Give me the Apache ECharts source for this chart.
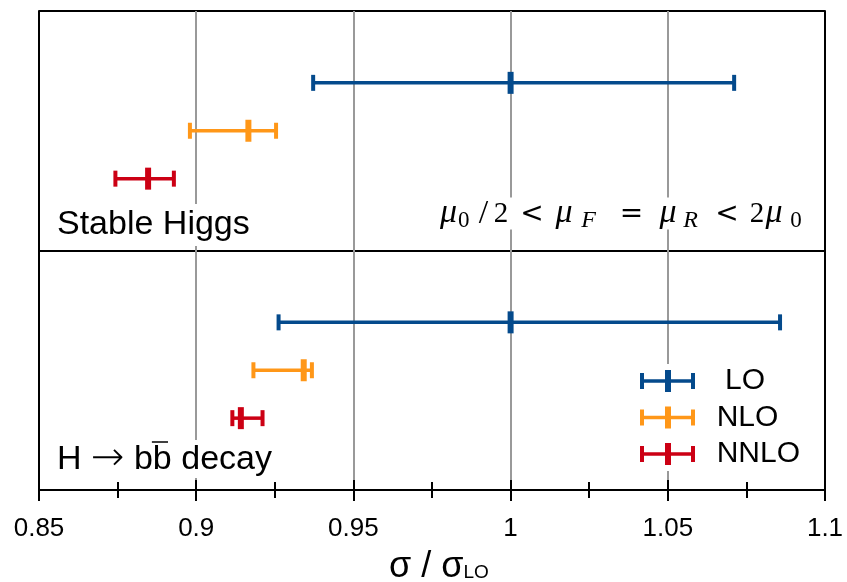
<!DOCTYPE html>
<html>
<head>
<meta charset="utf-8">
<script src="https://cdn.jsdelivr.net/npm/echarts@6/dist/echarts.min.js"></script>
<style>html,body{margin:0;padding:0;background:#fff;}#c{width:847px;height:582px;}</style>
</head>
<body>
<div id="c"></div>
<script>
// ---- data ----
const orders = ['LO', 'NLO', 'NNLO'];
const panelTop = 'Stable Higgs';
const panelBottomParts = ['H ', '\u2192', ' b', 'b', ' decay'];
const stableCentral = [1.000, 0.9166, 0.8847];
const stableLow     = [0.9372, 0.8980, 0.8743];
const stableHigh    = [1.0711, 0.9254, 0.8929];
const decayCentral  = [1.000, 0.9342, 0.9142];
const decayLow      = [0.9262, 0.9182, 0.9115];
const decayHigh     = [1.0857, 0.9368, 0.9211];
const xMin = 0.85, xMax = 1.1, xStep = 0.05;

// ---- styles ----
const colors = ['#044a8c', '#ff9718', '#cc0014'];
const FONT = '"Liberation Sans", Arial, sans-serif';
const SERIF = '"Liberation Serif", "Times New Roman", serif';

const chart = echarts.init(document.getElementById('c'), null, {renderer: 'canvas'});

// rows: panel p, order i -> y slot p*5 + i + 1.5 (y axis 0..10, divider at 5)
function buildData(i) {
  return [
    [0 * 5 + i + 1.5, stableLow[i], stableCentral[i], stableHigh[i]],
    [1 * 5 + i + 1.5, decayLow[i], decayCentral[i], decayHigh[i]]
  ];
}

function renderItem(params, api) {
  const y = api.value(0);
  const lo = api.coord([api.value(1), y]);
  const c = api.coord([api.value(2), y]);
  const hi = api.coord([api.value(3), y]);
  const color = api.visual('color');
  const st = {fill: color};
  return {
    type: 'group',
    children: [
      {type: 'rect', shape: {x: lo[0], y: lo[1] - 1.75, width: hi[0] - lo[0], height: 3.5}, style: st},
      {type: 'rect', shape: {x: lo[0] - 2, y: lo[1] - 8, width: 4, height: 16}, style: st},
      {type: 'rect', shape: {x: hi[0] - 2, y: hi[1] - 8, width: 4, height: 16}, style: st},
      {type: 'rect', shape: {x: c[0] - 3, y: c[1] - 11, width: 6, height: 22}, style: st}
    ]
  };
}

const errIcon = 'path://M0,3h4v6.25h21v-9.25h6v9.25h20v-6.25h4v16h-4v-6.25h-20v9.25h-6v-9.25h-21v6.25h-4z';

// bottom panel label: measure to place the bar over the second "b"
const mctx = document.createElement('canvas').getContext('2d');
mctx.font = '34px "Liberation Sans"';
const wH = mctx.measureText(panelBottomParts[0]).width;
const wSpB = mctx.measureText(panelBottomParts[2]).width;
const wB = mctx.measureText('b').width;
mctx.font = '200 40px "DejaVu Sans"';
const wArr = mctx.measureText(panelBottomParts[1]).width;
const decayX = 57;
const barStart = decayX + wH + wArr + wSpB;

const decayRich = '{a|' + panelBottomParts[0] + '}{r|' + panelBottomParts[1] + '}{a|' +
  panelBottomParts[2] + panelBottomParts[3] + panelBottomParts[4] + '}';
const muRich = '{i1|\u03bc}{s1|0}{sl|/}{n2|2}{o1|<}{i1|\u03bc}{sF|F}{o2|=}{i1|\u03bc}{sR|R}{o1|<}{n1|2}{i2|\u03bc}{s2|0}';

const tickStyle = {color: '#000', width: 2};

const option = {
  backgroundColor: '#fff',
  animation: false,
  grid: {left: 39, right: 22, top: 11, bottom: 92, containLabel: false, outerBoundsMode: 'none'},
  xAxis: [
    {
      // upward half of the ticks
      type: 'value', min: xMin, max: xMax, interval: xStep, position: 'bottom',
      axisLine: {show: true, onZero: false, lineStyle: {color: '#000', width: 2}},
      axisTick: {show: true, inside: true, length: 10, lineStyle: tickStyle},
      minorTick: {show: true, splitNumber: 2, length: 8, lineStyle: tickStyle},
      axisLabel: {color: '#000', fontSize: 26, fontFamily: FONT, margin: 26},
      splitLine: {show: true, lineStyle: {color: '#999', width: 2}},
      name: '{a|\u03c3 / \u03c3}{b|LO}',
      nameLocation: 'middle', nameGap: 59,
      nameTextStyle: {
        padding: [0, 0, 0, 14],
        rich: {
          a: {fontSize: 36, fontFamily: FONT, color: '#000', lineHeight: 36},
          b: {fontSize: 19, fontFamily: FONT, color: '#000', lineHeight: 19, padding: [12, 0, 0, 0]}
        }
      }
    },
    {
      // downward half of the ticks: top-position axis moved down onto the bottom edge
      type: 'value', min: xMin, max: xMax, interval: xStep, position: 'top', offset: -479,
      axisLine: {show: false, onZero: false},
      axisTick: {show: true, inside: true, length: 11, lineStyle: tickStyle},
      minorTick: {show: true, splitNumber: 2, length: 8, lineStyle: tickStyle},
      axisLabel: {show: false},
      splitLine: {show: false}
    }
  ],
  yAxis: [
    {
      type: 'value', min: 0, max: 10, interval: 5, inverse: true, position: 'left',
      axisLine: {show: true, onZero: false, lineStyle: {color: '#000', width: 2}},
      axisTick: {show: false}, axisLabel: {show: false},
      splitLine: {show: true, lineStyle: {color: '#000', width: 2}}
    },
    {
      type: 'value', min: 0, max: 10, interval: 5, inverse: true, position: 'right',
      axisLine: {show: true, onZero: false, lineStyle: {color: '#000', width: 2}},
      axisTick: {show: false}, axisLabel: {show: false}, splitLine: {show: false}
    }
  ],
  legend: {
    data: orders.map(n => ({name: n, icon: errIcon})),
    orient: 'vertical', left: 640, top: 364,
    itemWidth: 55, itemHeight: 22, itemGap: 6.5,
    padding: [2, 10, 2, 0],
    backgroundColor: '#fff',
    selectedMode: false,
    formatter: n => (n === 'LO' ? '   ' + n : '  ' + n),
    textStyle: {fontSize: 30, fontFamily: FONT, color: '#000', lineHeight: 30}
  },
  series: orders.map((n, i) => ({
    name: n, type: 'custom', xAxisIndex: 0, yAxisIndex: 0,
    renderItem: renderItem,
    itemStyle: {color: colors[i]},
    encode: {x: [1, 2, 3], y: 0},
    data: buildData(i),
    z: 5
  })),
  graphic: [
    {
      type: 'text', z: 100, x: 53, y: 225,
      style: {
        text: panelTop, font: '34px ' + FONT, fill: '#000',
        align: 'left', verticalAlign: 'middle',
        backgroundColor: '#fff', padding: [4, 4, 4, 4]
      }
    },
    {
      type: 'text', z: 100, x: decayX - 4, y: 459,
      style: {
        text: decayRich, fill: '#000',
        align: 'left', verticalAlign: 'middle',
        backgroundColor: '#fff', padding: [3, 4, 1, 4],
        rich: {
          a: {fontSize: 34, fontFamily: FONT, lineHeight: 34},
          r: {fontSize: 40, fontFamily: '"DejaVu Sans"', fontWeight: 200, lineHeight: 34}
        }
      }
    },
    {
      type: 'line', z: 101,
      shape: {x1: barStart - 1, y1: 442, x2: barStart + wB * 0.8, y2: 442},
      style: {stroke: '#000', lineWidth: 1.5}
    },
    {
      type: 'text', z: 100, x: 812, y: 197.5,
      style: {
        text: muRich, fill: '#000', align: 'right', verticalAlign: 'top',
        backgroundColor: '#fff', padding: [0, 4, 0, 4],
        rich: {
          i1: {fontFamily: SERIF, fontStyle: 'italic', fontSize: 34, lineHeight: 32, width: 18, align: 'left'},
          i2: {fontFamily: SERIF, fontStyle: 'italic', fontSize: 34, lineHeight: 32, width: 20, align: 'left'},
          n1: {fontFamily: SERIF, fontSize: 29, lineHeight: 28, padding: [2.7, 0, 0, 0], width: 14, align: 'center'},
          n2: {fontFamily: SERIF, fontSize: 29, lineHeight: 28, padding: [2.7, 0, 0, 0], width: 16, align: 'right'},
          sl: {fontFamily: SERIF, fontSize: 34, lineHeight: 30, padding: [1.4, 0, 0, 0], width: 19, align: 'center'},
          o1: {fontFamily: '"DejaVu Sans"', fontSize: 28, lineHeight: 28, padding: [2.2, 0, 0, 0], width: 46, align: 'center'},
          o2: {fontFamily: '"DejaVu Sans"', fontSize: 28, lineHeight: 28, padding: [2.2, 0, 0, 0], width: 55, align: 'center'},
          s1: {fontFamily: SERIF, fontSize: 23, lineHeight: 23, padding: [14.1, 0, 0, 0], width: 16, align: 'left'},
          s2: {fontFamily: SERIF, fontSize: 23, lineHeight: 23, padding: [14.1, 0, 0, 0], width: 24, align: 'left'},
          sF: {fontFamily: SERIF, fontStyle: 'italic', fontSize: 24, lineHeight: 23, padding: [14.1, 0, 0, 0], width: 31, align: 'center'},
          sR: {fontFamily: SERIF, fontStyle: 'italic', fontSize: 24, lineHeight: 23, padding: [14.1, 0, 0, 0], width: 27, align: 'center'}
        }
      }
    }
  ]
};
chart.setOption(option);
</script>
</body>
</html>
